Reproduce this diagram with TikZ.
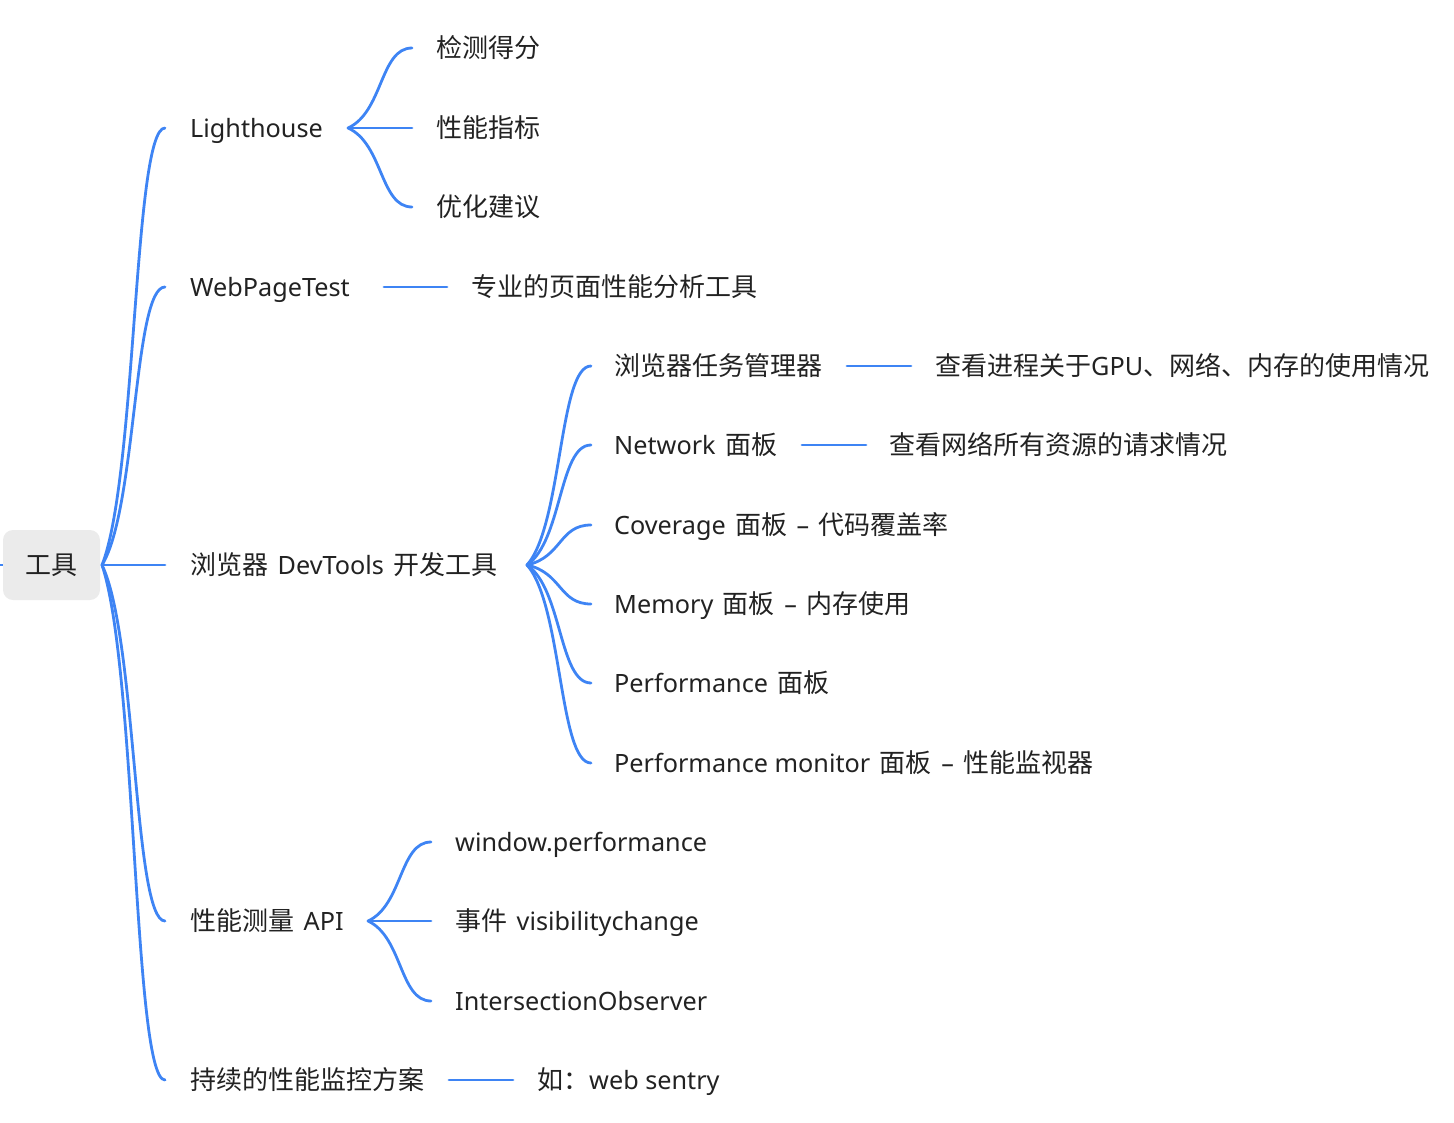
\documentclass[tikz,border=0pt]{standalone}
\usepackage{fontspec}
\setmainfont{Noto Sans CJK SC}
\newfontfamily\enfont[Scale=0.97]{Noto Sans}
\newcommand{\en}[1]{{\enfont #1}}
\newcommand{\gap}{\hspace{9.5pt}}
\usetikzlibrary{calc}
\definecolor{linkblue}{RGB}{62,132,244}
\definecolor{txt}{RGB}{34,34,34}
\definecolor{rootfill}{RGB}{235,235,235}
\begin{document}
\begin{tikzpicture}[x=1pt,y=-1pt,
  link/.style={draw=linkblue,line width=2.8pt,line cap=round},
  lbl/.style={anchor=west,inner sep=0pt,text=txt,text height=24pt,text depth=5.5pt,font=\fontsize{26}{30}\selectfont},
  rootbox/.style={fill=rootfill,rounded corners=10pt,minimum width=97pt,minimum height=70pt,inner sep=0pt,text=txt,text height=24pt,text depth=5.5pt,font=\fontsize{26}{30}\selectfont},
  branch/.style={to path={let \p1=(\tikztostart),\p2=(\tikztotarget) in .. controls ({\x1+0.55*(\x2-\x1)},{\y1+0.2*(\y2-\y1)}) and ({\x1+0.5*(\x2-\x1)},\y2) .. (\tikztotarget)}}
]
\useasboundingbox (0,0) rectangle (1454,1122);

% root
\node[rootbox] (root) at (51.5,565) {工具};
\coordinate (rootout) at (102,565);
\coordinate (stub) at (0,565);
\draw[link,line cap=butt] (root.west) -- (stub);

% level 1
\node[lbl] (lh)  at (190,128)  {\en{Lighthouse}};
\node[lbl] (wpt) at (190,287)  {\en{WebPageTest}};
\node[lbl] (dev) at (190,565)  {浏览器\gap\en{DevTools}\gap 开发工具};
\node[lbl] (api) at (190,921)  {性能测量\gap\en{API}};
\node[lbl] (mon) at (190,1080) {持续的性能监控方案};

\foreach \n in {lh,wpt,api,mon}
  \draw[link] (rootout) to[branch] ([xshift=-25pt]\n.west);
\draw[link] (rootout) -- ([xshift=-25pt]dev.west);

% Lighthouse children
\coordinate (lhfork) at (348,128);
\node[lbl] (lh1) at (436,48)  {检测得分};
\node[lbl] (lh2) at (436,128) {性能指标};
\node[lbl] (lh3) at (436,207) {优化建议};
\draw[link] (lhfork) to[branch] ([xshift=-24pt]lh1.west);
\draw[link] (lhfork) -- ([xshift=-24pt]lh2.west);
\draw[link] (lhfork) to[branch] ([xshift=-24pt]lh3.west);

% WebPageTest child
\coordinate (wptout) at (384,287);
\node[lbl] (wpt1) at (471,287) {专业的页面性能分析工具};
\draw[link] (wptout) -- ([xshift=-24pt]wpt1.west);

% DevTools children
\coordinate (devfork) at (527,565);
\node[lbl] (d1) at (614,366) {浏览器任务管理器};
\node[lbl] (d2) at (614,445) {\en{Network}\gap 面板};
\node[lbl] (d3) at (614,525) {\en{Coverage}\gap 面板\gap\en{–}\gap 代码覆盖率};
\node[lbl] (d4) at (614,604) {\en{Memory}\gap 面板\gap\en{–}\gap 内存使用};
\node[lbl] (d5) at (614,683) {\en{Performance}\gap 面板};
\node[lbl] (d6) at (614,763) {\en{Performance monitor}\gap 面板\gap\en{–}\gap 性能监视器};
\foreach \n in {d1,d2,d3,d4,d5,d6}
  \draw[link] (devfork) to[branch] ([xshift=-23pt]\n.west);

\coordinate (d1out) at (847,366);
\node[lbl] (d1a) at (935,366) {查看进程关于\en{GPU}、网络、内存的使用情况};
\draw[link] (d1out) -- ([xshift=-24pt]d1a.west);

\coordinate (d2out) at (802,445);
\node[lbl] (d2a) at (889,445) {查看网络所有资源的请求情况};
\draw[link] (d2out) -- ([xshift=-23pt]d2a.west);

% API children
\coordinate (apifork) at (368,921);
\node[lbl] (a1) at (455,842)  {\en{window.performance}};
\node[lbl] (a2) at (455,921)  {事件\gap\en{visibilitychange}};
\node[lbl] (a3) at (455,1001) {\en{IntersectionObserver}};
\draw[link] (apifork) to[branch] ([xshift=-24pt]a1.west);
\draw[link] (apifork) -- ([xshift=-24pt]a2.west);
\draw[link] (apifork) to[branch] ([xshift=-24pt]a3.west);

% monitoring child
\coordinate (monout) at (449,1080);
\node[lbl] (mon1) at (537,1080) {如：\en{web sentry}};
\draw[link] (monout) -- ([xshift=-24pt]mon1.west);
\end{tikzpicture}
\end{document}
